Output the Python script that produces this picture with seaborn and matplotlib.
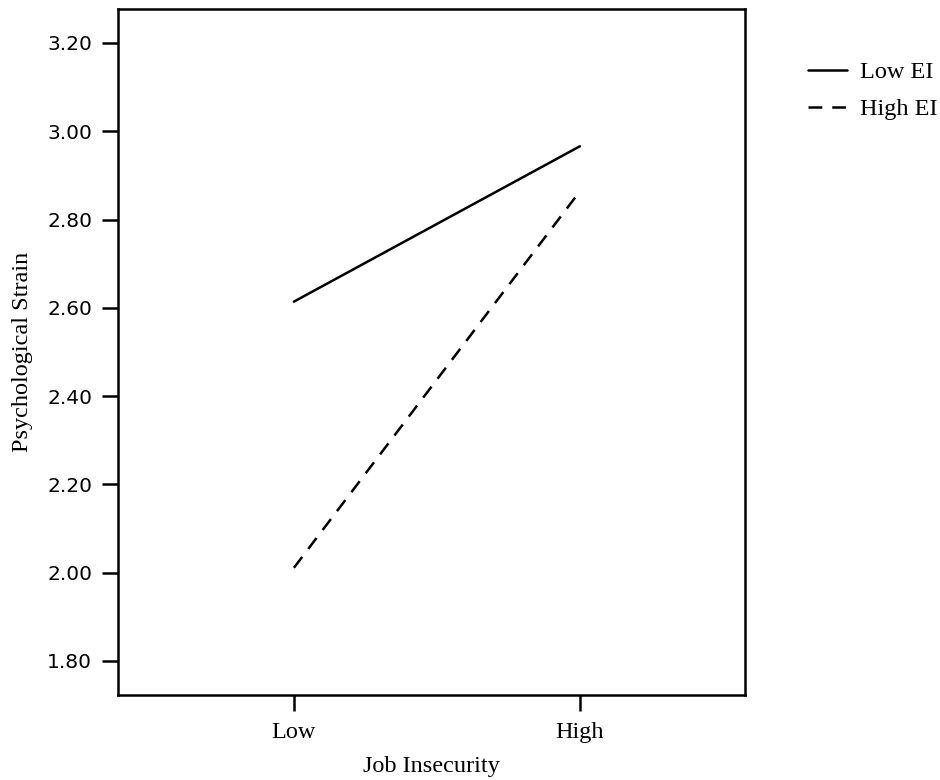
import matplotlib
matplotlib.use("Agg")
import matplotlib.pyplot as plt
import seaborn as sns
import pandas as pd

# values
job_insecurity = ["Low", "High"]
low_ei = [2.614, 2.966]
high_ei = [2.011, 2.864]
y_ticks = [1.80, 2.00, 2.20, 2.40, 2.60, 2.80, 3.00, 3.20]

df = pd.DataFrame({
    "Job Insecurity": job_insecurity * 2,
    "x": [0, 1, 0, 1],
    "Psychological Strain": low_ei + high_ei,
    "EI": ["Low EI"] * 2 + ["High EI"] * 2,
})

sns.set_style("ticks")
plt.rcParams["text.color"] = "black"
plt.rcParams["axes.labelcolor"] = "black"
serif = ["Liberation Serif", "DejaVu Serif"]

fig = plt.figure(figsize=(9.4, 7.8), dpi=100)
ax = fig.add_axes([0.1255, 0.109, 0.667, 0.8795])

sns.lineplot(data=df, x="x", y="Psychological Strain", style="EI",
             style_order=["Low EI", "High EI"],
             dashes={"Low EI": "", "High EI": (5.5, 4)},
             color="black", linewidth=1.8, ax=ax)

ax.set_xlim(-0.615, 1.577)
ax.set_ylim(1.723, 3.277)
ax.set_xticks([0, 1])
ax.set_xticklabels(job_insecurity, fontfamily=serif, fontsize=17.5)
ax.set_yticks(y_ticks)
ax.set_yticklabels([f"{v:.2f}" for v in y_ticks], fontfamily="DejaVu Sans", fontsize=14.5)
ax.set_xlabel("Job Insecurity", fontfamily=serif, fontsize=17.5, labelpad=9)
ax.set_ylabel("Psychological Strain", fontfamily=serif, fontsize=17.5, labelpad=10)

for s in ax.spines.values():
    s.set_visible(True)
    s.set_linewidth(1.8)
    s.set_color("black")
ax.tick_params(axis="both", length=11.5, width=1.8, color="black", labelcolor="black")
ax.tick_params(axis="y", pad=7)
ax.tick_params(axis="x", pad=8)

# legend outside the box, on the right
handles, labels = ax.get_legend_handles_labels()
ax.get_legend().remove()
fig.legend(handles, labels, loc="upper left", bbox_to_anchor=(808 / 940, 1 - 61 / 780),
           frameon=False, prop={"family": serif, "size": 17.5},
           handlelength=1.6, handletextpad=0.55, labelspacing=0.62,
           borderpad=0, borderaxespad=0)

fig.savefig("out.png", dpi=100)
